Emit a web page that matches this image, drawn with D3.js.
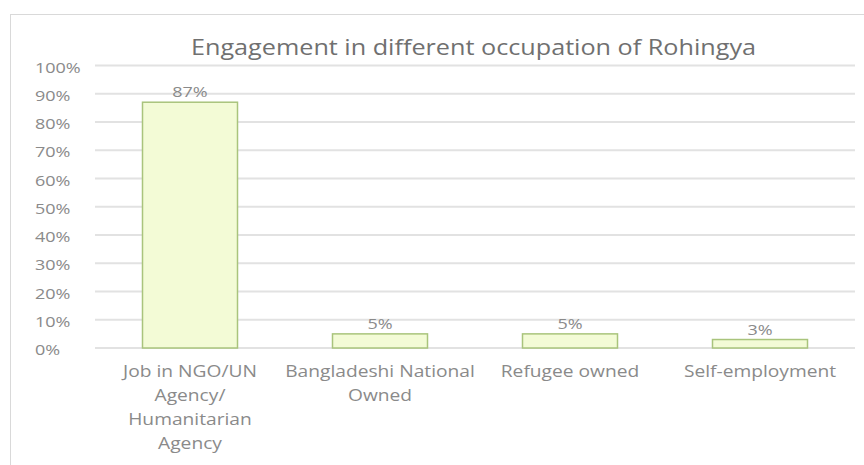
<!DOCTYPE html>
<html>
<head>
<meta charset="utf-8">
<script src="https://cdn.jsdelivr.net/npm/d3@7"></script>
<style>
  html, body { margin: 0; padding: 0; background: #ffffff; }
  svg { display: block; }
</style>
</head>
<body>
<svg id="chart" width="864" height="465"></svg>
<script>
// Occupation categories (wrapped lines) and share of respondents
const categories = [
  ["Job in NGO/UN", "Agency/", "Humanitarian", "Agency"],
  ["Bangladeshi National", "Owned"],
  ["Refugee owned"],
  ["Self-employment"]
];
const shares = [87, 5, 5, 3];
const yTicks = [0, 10, 20, 30, 40, 50, 60, 70, 80, 90, 100];
const titleText = "Engagement in different occupation of Rohingya";

const svg = d3.select("#chart");
const font = "'Open Sans', sans-serif";
const textColor = "#8a8a8a";
const sx = 1.2; // horizontal text stretch

// Chart frame
svg.append("rect")
  .attr("x", 10.5).attr("y", 14.5)
  .attr("width", 880).attr("height", 470)
  .attr("fill", "#ffffff")
  .attr("stroke", "#d9d9d9").attr("stroke-width", 1);

const plot = { left: 95, right: 855, top: 65.5, bottom: 348 };

const x = d3.scaleBand()
  .domain(d3.range(categories.length))
  .range([plot.left, plot.right])
  .paddingInner(0.5).paddingOuter(0.25);

const y = d3.scaleLinear().domain([0, 100]).range([plot.bottom, plot.top]);

// Gridlines
svg.append("g").selectAll("line").data(yTicks).join("line")
  .attr("x1", plot.left).attr("x2", plot.right)
  .attr("y1", d => y(d)).attr("y2", d => y(d))
  .attr("stroke", "#e2e2e2").attr("stroke-width", 2);

// Y axis labels (left aligned)
const yAxis = d3.axisLeft(y).tickValues(yTicks).tickFormat(d => d + "%").tickSize(0);
const gy = svg.append("g").call(yAxis);
gy.select(".domain").remove();
gy.selectAll(".tick").attr("transform", d => `translate(35,${y(d) + 7})`);
gy.selectAll("text")
  .attr("x", 0).attr("y", 0).attr("dy", null)
  .attr("transform", `scale(${sx},1)`)
  .attr("text-anchor", "start")
  .attr("fill", textColor).attr("font-size", 15).attr("font-family", font);

// Bars
svg.append("g").selectAll("rect").data(shares).join("rect")
  .attr("x", (d, i) => x(i))
  .attr("y", d => y(d))
  .attr("width", x.bandwidth())
  .attr("height", d => y(0) - y(d))
  .attr("fill", "#f3fbd6")
  .attr("stroke", "#a9c47c").attr("stroke-width", 1.5);

// Value labels
svg.append("g").selectAll("text").data(shares).join("text")
  .attr("transform", (d, i) => `translate(${x(i) + x.bandwidth() / 2},${y(d) - 5}) scale(${sx},1)`)
  .attr("text-anchor", "middle")
  .attr("fill", textColor).attr("font-size", 15).attr("font-family", font)
  .text(d => d + "%");

// Category labels
const cat = svg.append("g").selectAll("g").data(categories).join("g")
  .attr("transform", (d, i) => `translate(${x(i) + x.bandwidth() / 2},377)`);
cat.selectAll("text").data(d => d).join("text")
  .attr("transform", (d, j) => `translate(0,${j * 24}) scale(${sx},1)`)
  .attr("text-anchor", "middle")
  .attr("fill", textColor).attr("font-size", 16).attr("font-family", font)
  .text(d => d);

// Title
svg.append("text")
  .attr("transform", `translate(473.5,55) scale(${sx},1)`)
  .attr("text-anchor", "middle")
  .attr("fill", "#707070").attr("font-size", 21).attr("font-family", font)
  .text(titleText);
</script>
</body>
</html>
